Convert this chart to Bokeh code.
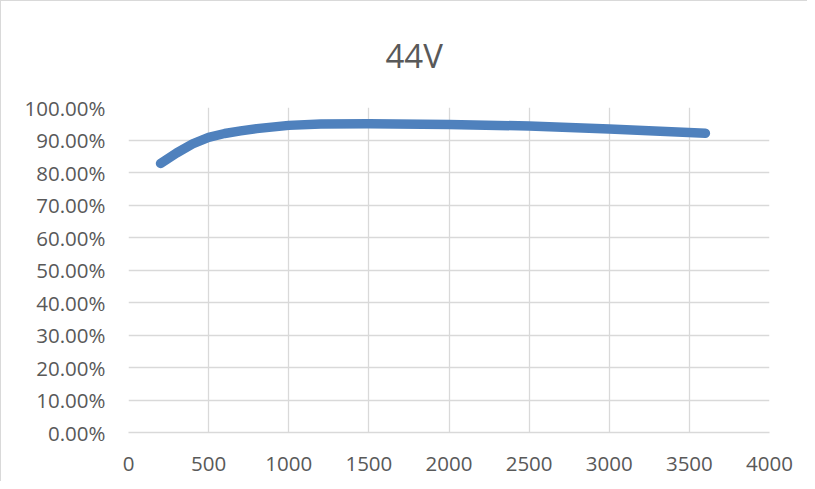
from bokeh.plotting import figure
from bokeh.models import NumeralTickFormatter, FixedTicker, Range1d, Title
from bokeh.embed import file_html
from bokeh.resources import INLINE

title_text = "44V"
power_w = [200, 300, 400, 500, 600, 700, 800, 1000, 1200, 1500, 2000, 2500, 3000, 3600]
efficiency = [0.828, 0.860, 0.888, 0.908, 0.920, 0.928, 0.935, 0.945, 0.949, 0.950, 0.948, 0.943, 0.934, 0.921]
x_ticks = [0, 500, 1000, 1500, 2000, 2500, 3000, 3500, 4000]
y_ticks = [0.0, 0.1, 0.2, 0.3, 0.4, 0.5, 0.6, 0.7, 0.8, 0.9, 1.0]

FONT = "Open Sans"
TXT = "#595959"
GRID = "#d9d9d9"

p = figure(width=807, height=481, output_backend="svg", toolbar_location=None,
           x_range=Range1d(0, 4000), y_range=Range1d(0, 1.0),
           min_border_left=127, min_border_right=39, min_border_top=106, min_border_bottom=50)
p.styles = {"border-left": "1px solid #d9d9d9", "border-top": "1px solid #d9d9d9"}
p.outline_line_color = None

t = Title(text=title_text, align="left", offset=257, text_font=FONT, text_font_size="33px",
          text_font_style="normal", text_color=TXT, standoff=59)
p.add_layout(t, "above")

p.line(power_w, efficiency, line_color="#4F81BD", line_width=9.5, line_cap="round", line_join="round")

p.xaxis.ticker = FixedTicker(ticks=x_ticks)
p.yaxis.ticker = FixedTicker(ticks=y_ticks)
p.yaxis.formatter = NumeralTickFormatter(format="0.00%")

for ax in (p.xaxis, p.yaxis):
    ax.major_tick_line_color = None
    ax.minor_tick_line_color = None
    ax.major_label_text_font = FONT
    ax.major_label_text_font_size = "20.5px"
    ax.major_label_text_color = TXT
p.yaxis.major_label_standoff = 17
p.xaxis.major_label_standoff = 18
p.yaxis.axis_line_color = None
p.xaxis.axis_line_color = GRID
p.xaxis.axis_line_width = 1.5

p.grid.grid_line_color = GRID
p.grid.grid_line_width = 1.3
p.xgrid.ticker = FixedTicker(ticks=x_ticks)
p.ygrid.ticker = FixedTicker(ticks=y_ticks)

open("out.html", "w").write(file_html(p, INLINE))
